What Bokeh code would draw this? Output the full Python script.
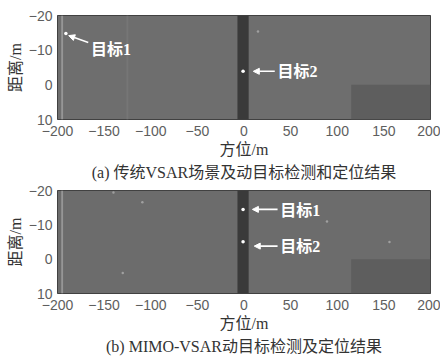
from bokeh.plotting import figure
from bokeh.layouts import column
from bokeh.models import Range1d, FixedTicker, Arrow, NormalHead, Title, ColumnDataSource
from bokeh.core.properties import value
from bokeh.embed import file_html
from bokeh.resources import INLINE

# ---------------- data ----------------
x_ticks = [-200, -150, -100, -50, 0, 50, 100, 150, 200]
y_ticks = [-20, -10, 0, 10]

# panel (a): scene regions (azimuth m, range m, gray level 0-255)
a_left = [-200, 115, -7, -196, -126]
a_right = [200, 200, 5, -194, -124]
a_top = [-20, 0, -20, -20, -20]
a_bottom = [10, 10, 10, 10, 10]
a_level = [110, 94, 58, 150, 118]

# panel (b): scene regions
b_left = [-200, 115, -7, -196]
b_right = [200, 200, 5, -194]
b_top = [-20, 0, -20, -20]
b_bottom = [10, 10, 10, 10]
b_level = [108, 94, 58, 150]

# detected targets
a_target_x = [-191, -1]
a_target_y = [-14.8, -3.9]
b_target_x = [-1, -1]
b_target_y = [-14.5, -5.1]

# faint clutter specks
a_speck_x = [15]
a_speck_y = [-15.4]
b_speck_x = [-140, -109, -130, 156, 89]
b_speck_y = [-19.4, -16.6, 4, -5, -11]

# annotations
a_names = ["目标1", "目标2"]
a_name_x = [-164, 36]
a_name_y = [-10.2, -3.9]
a_arrow_x0 = [-167, 33]
a_arrow_y0 = [-12.2, -3.9]
a_arrow_x1 = [-188, 10]
a_arrow_y1 = [-14.2, -3.9]

b_names = ["目标1", "目标2"]
b_name_x = [39, 39]
b_name_y = [-14.3, -3.6]
b_arrow_x0 = [36, 36]
b_arrow_y0 = [-14.5, -3.8]
b_arrow_x1 = [9, 11]
b_arrow_y1 = [-14.5, -3.8]

x_title = "方位/m"
y_title = "距离/m"
cap_a = "(a) 传统VSAR场景及动目标检测和定位结果"
cap_b = "(b) MIMO-VSAR动目标检测及定位结果"

MIX_FONT = "Liberation Serif, Noto Sans CJK SC"


def gray(v):
    return "#%02x%02x%02x" % (v, v, v)


def panel(height, top_border, bottom_border, left, right, top, bottom, level,
          tx, ty, sx, sy, names, nx, ny, ax0, ay0, ax1, ay1, cap, cap_offset):
    p = figure(width=440, height=height, output_backend="svg", toolbar_location=None,
               x_range=Range1d(-200, 200), y_range=Range1d(10, -20),
               min_border_left=57, min_border_right=10,
               min_border_top=top_border, min_border_bottom=bottom_border)
    p.grid.visible = False
    p.outline_line_color = "#333333"
    p.outline_line_width = 1
    p.background_fill_color = gray(level[0])
    p.border_fill_color = "white"

    src = ColumnDataSource(dict(left=left, right=right, top=top, bottom=bottom,
                                color=[gray(v) for v in level]))
    p.quad(left="left", right="right", top="top", bottom="bottom", fill_color="color",
           line_color=None, source=src)
    p.scatter(sx, sy, size=2.5, color="#a0a0a0", line_color=None)
    p.scatter(tx, ty, size=3.5, color="white", line_color=None)

    for x0, y0, x1, y1 in zip(ax0, ay0, ax1, ay1):
        p.add_layout(Arrow(end=NormalHead(size=6, fill_color="white", line_color="white"),
                           x_start=x0, y_start=y0, x_end=x1, y_end=y1,
                           line_color="white", line_width=1.6))
    p.text(x=nx, y=ny, text=names, text_color="white", text_font=value(MIX_FONT),
           text_font_size="16px", text_font_style="bold",
           text_baseline="middle", text_align="left")

    for ax in (p.xaxis, p.yaxis):
        ax.major_tick_out = 0
        ax.major_tick_in = 0
        ax.minor_tick_out = 0
        ax.minor_tick_in = 0
        ax.axis_line_color = None
        ax.major_label_text_font = "Liberation Sans"
        ax.major_label_text_font_size = "14px"
        ax.major_label_text_color = "#5e5e5e"
        ax.axis_label_text_font = MIX_FONT
        ax.axis_label_text_font_size = "16px"
        ax.axis_label_text_font_style = "normal"
        ax.axis_label_text_color = "#333333"
    p.xaxis.ticker = FixedTicker(ticks=x_ticks)
    p.yaxis.ticker = FixedTicker(ticks=y_ticks)
    p.xaxis.major_label_standoff = 6
    p.yaxis.major_label_standoff = 5
    p.xaxis.axis_label = x_title
    p.yaxis.axis_label = y_title
    p.xaxis.axis_label_standoff = 2
    p.yaxis.axis_label_standoff = 2

    p.add_layout(Title(text=cap, align="center", offset=cap_offset, standoff=2,
                       text_font=MIX_FONT, text_font_size="16px",
                       text_font_style="normal", text_color="#333333"), "below")
    return p


p1 = panel(184, 15, 65, a_left, a_right, a_top, a_bottom, a_level,
           a_target_x, a_target_y, a_speck_x, a_speck_y,
           a_names, a_name_x, a_name_y, a_arrow_x0, a_arrow_y0, a_arrow_x1, a_arrow_y1,
           cap_a, -4)
p2 = panel(173, 6, 64, b_left, b_right, b_top, b_bottom, b_level,
           b_target_x, b_target_y, b_speck_x, b_speck_y,
           b_names, b_name_x, b_name_y, b_arrow_x0, b_arrow_y0, b_arrow_x1, b_arrow_y1,
           cap_b, -10)

layout = column(p1, p2, spacing=0)
open("out.html", "w").write(file_html(layout, INLINE))
